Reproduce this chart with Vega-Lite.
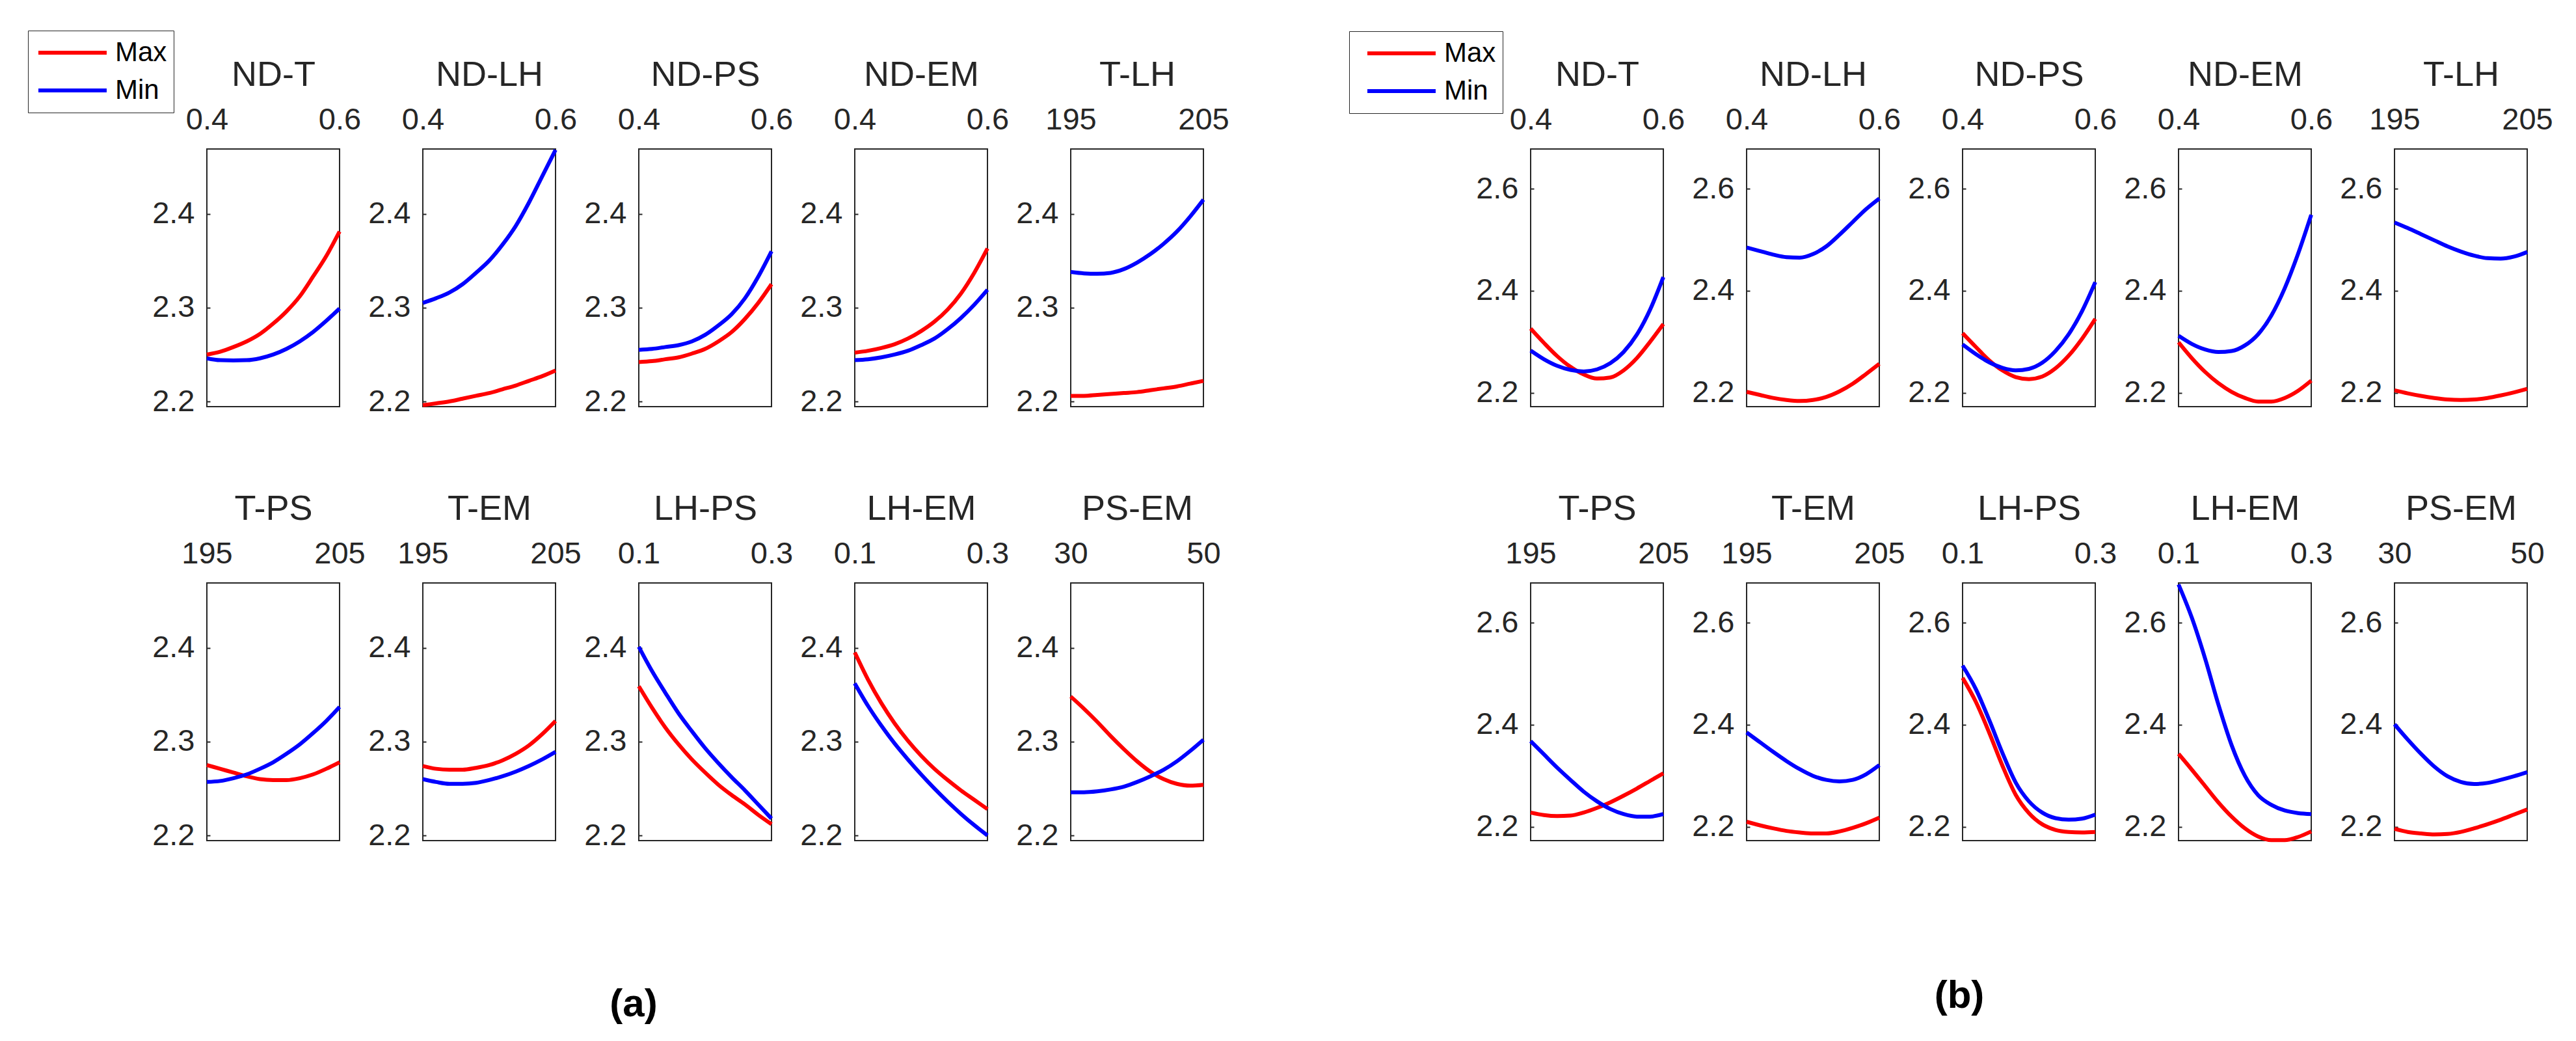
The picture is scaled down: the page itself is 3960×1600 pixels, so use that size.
{
  "$schema": "https://vega.github.io/schema/vega-lite/v6.json",
  "background": "white",
  "padding": {"left": 41, "top": 45, "right": 10, "bottom": 10},
  "config": {
    "font": "Liberation Sans",
    "view": {"continuousWidth": 204, "continuousHeight": 396, "stroke": "#262626", "strokeWidth": 2},
    "line": {"strokeWidth": 6, "interpolate": "monotone"},
    "axis": {"labelFont": "Liberation Sans", "labelFontSize": 47, "labelColor": "#262626", "tickColor": "#262626", "domain": false, "grid": false,
             "titleFont": "Liberation Sans", "titleFontSize": 54, "titleFontWeight": "normal", "titleColor": "#262626"},
    "axisX": {"ticks": false, "labelPadding": 21, "labelFlush": false, "labelOverlap": false, "labelBound": false, "titlePadding": 18},
    "axisY": {"tickSize": -5, "tickWidth": 2, "labelPadding": 24, "format": ".1f", "labelOverlap": false},
    "title": {"font": "Liberation Sans", "fontSize": 60, "fontWeight": "bold", "color": "black", "orient": "bottom", "anchor": "middle", "offset": 208},
    "legend": {"symbolType": "stroke", "symbolSize": 11025, "symbolStrokeWidth": 6, "labelFont": "Liberation Sans", "labelFontSize": 42, "labelColor": "black", "clipHeight": 48, "rowPadding": 10, "padding": 10, "strokeColor": "#262626", "fillColor": "white", "labelOffset": 10}
  },
  "datasets": {
    "a": [
      {"p":"ND-T","x":0.4,"Max":2.25,"Min":2.246},
      {"p":"ND-T","x":0.42,"Max":2.253,"Min":2.244},
      {"p":"ND-T","x":0.44,"Max":2.258,"Min":2.2438},
      {"p":"ND-T","x":0.46,"Max":2.264,"Min":2.244},
      {"p":"ND-T","x":0.48,"Max":2.272,"Min":2.246},
      {"p":"ND-T","x":0.5,"Max":2.283,"Min":2.25},
      {"p":"ND-T","x":0.52,"Max":2.296,"Min":2.256},
      {"p":"ND-T","x":0.54,"Max":2.312,"Min":2.264},
      {"p":"ND-T","x":0.56,"Max":2.333,"Min":2.274},
      {"p":"ND-T","x":0.58,"Max":2.355,"Min":2.286},
      {"p":"ND-T","x":0.6,"Max":2.381,"Min":2.299},
      {"p":"ND-LH","x":0.4,"Max":2.196,"Min":2.305},
      {"p":"ND-LH","x":0.42,"Max":2.198,"Min":2.31},
      {"p":"ND-LH","x":0.44,"Max":2.2,"Min":2.316},
      {"p":"ND-LH","x":0.46,"Max":2.203,"Min":2.325},
      {"p":"ND-LH","x":0.48,"Max":2.206,"Min":2.337},
      {"p":"ND-LH","x":0.5,"Max":2.209,"Min":2.35},
      {"p":"ND-LH","x":0.52,"Max":2.213,"Min":2.367},
      {"p":"ND-LH","x":0.54,"Max":2.217,"Min":2.387},
      {"p":"ND-LH","x":0.56,"Max":2.222,"Min":2.412},
      {"p":"ND-LH","x":0.58,"Max":2.227,"Min":2.44},
      {"p":"ND-LH","x":0.6,"Max":2.233,"Min":2.468},
      {"p":"ND-PS","x":0.4,"Max":2.242,"Min":2.255},
      {"p":"ND-PS","x":0.42,"Max":2.243,"Min":2.256},
      {"p":"ND-PS","x":0.44,"Max":2.245,"Min":2.258},
      {"p":"ND-PS","x":0.46,"Max":2.247,"Min":2.26},
      {"p":"ND-PS","x":0.48,"Max":2.251,"Min":2.264},
      {"p":"ND-PS","x":0.5,"Max":2.256,"Min":2.271},
      {"p":"ND-PS","x":0.52,"Max":2.264,"Min":2.281},
      {"p":"ND-PS","x":0.54,"Max":2.274,"Min":2.293},
      {"p":"ND-PS","x":0.56,"Max":2.288,"Min":2.31},
      {"p":"ND-PS","x":0.58,"Max":2.305,"Min":2.333},
      {"p":"ND-PS","x":0.6,"Max":2.325,"Min":2.36},
      {"p":"ND-EM","x":0.4,"Max":2.252,"Min":2.244},
      {"p":"ND-EM","x":0.42,"Max":2.254,"Min":2.245},
      {"p":"ND-EM","x":0.44,"Max":2.257,"Min":2.247},
      {"p":"ND-EM","x":0.46,"Max":2.261,"Min":2.25},
      {"p":"ND-EM","x":0.48,"Max":2.267,"Min":2.254},
      {"p":"ND-EM","x":0.5,"Max":2.275,"Min":2.26},
      {"p":"ND-EM","x":0.52,"Max":2.285,"Min":2.267},
      {"p":"ND-EM","x":0.54,"Max":2.298,"Min":2.277},
      {"p":"ND-EM","x":0.56,"Max":2.315,"Min":2.289},
      {"p":"ND-EM","x":0.58,"Max":2.337,"Min":2.303},
      {"p":"ND-EM","x":0.6,"Max":2.363,"Min":2.319},
      {"p":"T-LH","x":195,"Max":2.206,"Min":2.338},
      {"p":"T-LH","x":196,"Max":2.206,"Min":2.3365},
      {"p":"T-LH","x":197,"Max":2.207,"Min":2.336},
      {"p":"T-LH","x":198,"Max":2.208,"Min":2.337},
      {"p":"T-LH","x":199,"Max":2.209,"Min":2.341},
      {"p":"T-LH","x":200,"Max":2.21,"Min":2.348},
      {"p":"T-LH","x":201,"Max":2.212,"Min":2.357},
      {"p":"T-LH","x":202,"Max":2.214,"Min":2.368},
      {"p":"T-LH","x":203,"Max":2.216,"Min":2.381},
      {"p":"T-LH","x":204,"Max":2.219,"Min":2.397},
      {"p":"T-LH","x":205,"Max":2.222,"Min":2.415},
      {"p":"T-PS","x":195,"Max":2.275,"Min":2.257},
      {"p":"T-PS","x":196,"Max":2.271,"Min":2.258},
      {"p":"T-PS","x":197,"Max":2.267,"Min":2.261},
      {"p":"T-PS","x":198,"Max":2.263,"Min":2.265},
      {"p":"T-PS","x":199,"Max":2.26,"Min":2.271},
      {"p":"T-PS","x":200,"Max":2.259,"Min":2.278},
      {"p":"T-PS","x":201,"Max":2.259,"Min":2.287},
      {"p":"T-PS","x":202,"Max":2.261,"Min":2.297},
      {"p":"T-PS","x":203,"Max":2.265,"Min":2.309},
      {"p":"T-PS","x":204,"Max":2.271,"Min":2.322},
      {"p":"T-PS","x":205,"Max":2.278,"Min":2.337},
      {"p":"T-EM","x":195,"Max":2.274,"Min":2.26},
      {"p":"T-EM","x":196,"Max":2.271,"Min":2.257},
      {"p":"T-EM","x":197,"Max":2.27,"Min":2.255},
      {"p":"T-EM","x":198,"Max":2.27,"Min":2.255},
      {"p":"T-EM","x":199,"Max":2.272,"Min":2.256},
      {"p":"T-EM","x":200,"Max":2.275,"Min":2.259},
      {"p":"T-EM","x":201,"Max":2.28,"Min":2.263},
      {"p":"T-EM","x":202,"Max":2.287,"Min":2.268},
      {"p":"T-EM","x":203,"Max":2.296,"Min":2.274},
      {"p":"T-EM","x":204,"Max":2.308,"Min":2.281},
      {"p":"T-EM","x":205,"Max":2.322,"Min":2.289},
      {"p":"LH-PS","x":0.1,"Max":2.359,"Min":2.401},
      {"p":"LH-PS","x":0.12,"Max":2.336,"Min":2.375},
      {"p":"LH-PS","x":0.14,"Max":2.315,"Min":2.352},
      {"p":"LH-PS","x":0.16,"Max":2.297,"Min":2.33},
      {"p":"LH-PS","x":0.18,"Max":2.281,"Min":2.311},
      {"p":"LH-PS","x":0.2,"Max":2.267,"Min":2.293},
      {"p":"LH-PS","x":0.22,"Max":2.254,"Min":2.277},
      {"p":"LH-PS","x":0.24,"Max":2.243,"Min":2.262},
      {"p":"LH-PS","x":0.26,"Max":2.233,"Min":2.248},
      {"p":"LH-PS","x":0.28,"Max":2.222,"Min":2.233},
      {"p":"LH-PS","x":0.3,"Max":2.212,"Min":2.218},
      {"p":"LH-EM","x":0.1,"Max":2.395,"Min":2.362},
      {"p":"LH-EM","x":0.12,"Max":2.366,"Min":2.338},
      {"p":"LH-EM","x":0.14,"Max":2.341,"Min":2.317},
      {"p":"LH-EM","x":0.16,"Max":2.3195,"Min":2.298},
      {"p":"LH-EM","x":0.18,"Max":2.301,"Min":2.281},
      {"p":"LH-EM","x":0.2,"Max":2.285,"Min":2.265},
      {"p":"LH-EM","x":0.22,"Max":2.271,"Min":2.25},
      {"p":"LH-EM","x":0.24,"Max":2.259,"Min":2.236},
      {"p":"LH-EM","x":0.26,"Max":2.248,"Min":2.223},
      {"p":"LH-EM","x":0.28,"Max":2.238,"Min":2.211},
      {"p":"LH-EM","x":0.3,"Max":2.228,"Min":2.2},
      {"p":"PS-EM","x":30,"Max":2.348,"Min":2.246},
      {"p":"PS-EM","x":32,"Max":2.335,"Min":2.246},
      {"p":"PS-EM","x":34,"Max":2.321,"Min":2.247},
      {"p":"PS-EM","x":36,"Max":2.306,"Min":2.249},
      {"p":"PS-EM","x":38,"Max":2.292,"Min":2.252},
      {"p":"PS-EM","x":40,"Max":2.279,"Min":2.257},
      {"p":"PS-EM","x":42,"Max":2.268,"Min":2.263},
      {"p":"PS-EM","x":44,"Max":2.26,"Min":2.27},
      {"p":"PS-EM","x":46,"Max":2.255,"Min":2.279},
      {"p":"PS-EM","x":48,"Max":2.253,"Min":2.29},
      {"p":"PS-EM","x":50,"Max":2.254,"Min":2.302}
    ],
    "b": [
      {"p":"ND-T","x":0.4,"Max":2.326,"Min":2.283},
      {"p":"ND-T","x":0.42,"Max":2.298,"Min":2.266},
      {"p":"ND-T","x":0.44,"Max":2.272,"Min":2.253},
      {"p":"ND-T","x":0.46,"Max":2.251,"Min":2.245},
      {"p":"ND-T","x":0.48,"Max":2.236,"Min":2.242},
      {"p":"ND-T","x":0.5,"Max":2.228,"Min":2.246},
      {"p":"ND-T","x":0.52,"Max":2.23,"Min":2.258},
      {"p":"ND-T","x":0.54,"Max":2.244,"Min":2.28},
      {"p":"ND-T","x":0.56,"Max":2.268,"Min":2.314},
      {"p":"ND-T","x":0.58,"Max":2.3,"Min":2.363},
      {"p":"ND-T","x":0.6,"Max":2.335,"Min":2.427},
      {"p":"ND-LH","x":0.4,"Max":2.202,"Min":2.485},
      {"p":"ND-LH","x":0.42,"Max":2.196,"Min":2.478},
      {"p":"ND-LH","x":0.44,"Max":2.19,"Min":2.471},
      {"p":"ND-LH","x":0.46,"Max":2.186,"Min":2.466},
      {"p":"ND-LH","x":0.48,"Max":2.184,"Min":2.465},
      {"p":"ND-LH","x":0.5,"Max":2.186,"Min":2.472},
      {"p":"ND-LH","x":0.52,"Max":2.192,"Min":2.487},
      {"p":"ND-LH","x":0.54,"Max":2.203,"Min":2.51},
      {"p":"ND-LH","x":0.56,"Max":2.218,"Min":2.535},
      {"p":"ND-LH","x":0.58,"Max":2.237,"Min":2.56},
      {"p":"ND-LH","x":0.6,"Max":2.257,"Min":2.581},
      {"p":"ND-PS","x":0.4,"Max":2.317,"Min":2.295},
      {"p":"ND-PS","x":0.42,"Max":2.29,"Min":2.276},
      {"p":"ND-PS","x":0.44,"Max":2.264,"Min":2.26},
      {"p":"ND-PS","x":0.46,"Max":2.244,"Min":2.249},
      {"p":"ND-PS","x":0.48,"Max":2.231,"Min":2.244},
      {"p":"ND-PS","x":0.5,"Max":2.227,"Min":2.247},
      {"p":"ND-PS","x":0.52,"Max":2.232,"Min":2.259},
      {"p":"ND-PS","x":0.54,"Max":2.248,"Min":2.282},
      {"p":"ND-PS","x":0.56,"Max":2.273,"Min":2.315},
      {"p":"ND-PS","x":0.58,"Max":2.306,"Min":2.36},
      {"p":"ND-PS","x":0.6,"Max":2.345,"Min":2.417},
      {"p":"ND-EM","x":0.4,"Max":2.299,"Min":2.312},
      {"p":"ND-EM","x":0.42,"Max":2.268,"Min":2.296},
      {"p":"ND-EM","x":0.44,"Max":2.241,"Min":2.285},
      {"p":"ND-EM","x":0.46,"Max":2.219,"Min":2.28},
      {"p":"ND-EM","x":0.48,"Max":2.202,"Min":2.282},
      {"p":"ND-EM","x":0.5,"Max":2.19,"Min":2.293},
      {"p":"ND-EM","x":0.52,"Max":2.183,"Min":2.315},
      {"p":"ND-EM","x":0.54,"Max":2.183,"Min":2.352},
      {"p":"ND-EM","x":0.56,"Max":2.19,"Min":2.405},
      {"p":"ND-EM","x":0.58,"Max":2.204,"Min":2.472},
      {"p":"ND-EM","x":0.6,"Max":2.224,"Min":2.549},
      {"p":"T-LH","x":195,"Max":2.205,"Min":2.534},
      {"p":"T-LH","x":196,"Max":2.199,"Min":2.523},
      {"p":"T-LH","x":197,"Max":2.194,"Min":2.511},
      {"p":"T-LH","x":198,"Max":2.19,"Min":2.499},
      {"p":"T-LH","x":199,"Max":2.187,"Min":2.487},
      {"p":"T-LH","x":200,"Max":2.186,"Min":2.477},
      {"p":"T-LH","x":201,"Max":2.187,"Min":2.469},
      {"p":"T-LH","x":202,"Max":2.19,"Min":2.464},
      {"p":"T-LH","x":203,"Max":2.195,"Min":2.463},
      {"p":"T-LH","x":204,"Max":2.201,"Min":2.467},
      {"p":"T-LH","x":205,"Max":2.208,"Min":2.476},
      {"p":"T-PS","x":195,"Max":2.228,"Min":2.368},
      {"p":"T-PS","x":196,"Max":2.223,"Min":2.342},
      {"p":"T-PS","x":197,"Max":2.221,"Min":2.316},
      {"p":"T-PS","x":198,"Max":2.222,"Min":2.292},
      {"p":"T-PS","x":199,"Max":2.228,"Min":2.269},
      {"p":"T-PS","x":200,"Max":2.237,"Min":2.25},
      {"p":"T-PS","x":201,"Max":2.248,"Min":2.235},
      {"p":"T-PS","x":202,"Max":2.261,"Min":2.225},
      {"p":"T-PS","x":203,"Max":2.275,"Min":2.22},
      {"p":"T-PS","x":204,"Max":2.29,"Min":2.22},
      {"p":"T-PS","x":205,"Max":2.305,"Min":2.225},
      {"p":"T-EM","x":195,"Max":2.21,"Min":2.385},
      {"p":"T-EM","x":196,"Max":2.203,"Min":2.366},
      {"p":"T-EM","x":197,"Max":2.197,"Min":2.347},
      {"p":"T-EM","x":198,"Max":2.192,"Min":2.329},
      {"p":"T-EM","x":199,"Max":2.189,"Min":2.313},
      {"p":"T-EM","x":200,"Max":2.187,"Min":2.3},
      {"p":"T-EM","x":201,"Max":2.187,"Min":2.292},
      {"p":"T-EM","x":202,"Max":2.191,"Min":2.289},
      {"p":"T-EM","x":203,"Max":2.198,"Min":2.292},
      {"p":"T-EM","x":204,"Max":2.207,"Min":2.303},
      {"p":"T-EM","x":205,"Max":2.218,"Min":2.321},
      {"p":"LH-PS","x":0.1,"Max":2.492,"Min":2.516},
      {"p":"LH-PS","x":0.12,"Max":2.445,"Min":2.47},
      {"p":"LH-PS","x":0.14,"Max":2.385,"Min":2.41},
      {"p":"LH-PS","x":0.16,"Max":2.32,"Min":2.345},
      {"p":"LH-PS","x":0.18,"Max":2.263,"Min":2.287},
      {"p":"LH-PS","x":0.2,"Max":2.227,"Min":2.25},
      {"p":"LH-PS","x":0.22,"Max":2.205,"Min":2.228},
      {"p":"LH-PS","x":0.24,"Max":2.194,"Min":2.217},
      {"p":"LH-PS","x":0.26,"Max":2.19,"Min":2.214},
      {"p":"LH-PS","x":0.28,"Max":2.189,"Min":2.216},
      {"p":"LH-PS","x":0.3,"Max":2.19,"Min":2.224},
      {"p":"LH-EM","x":0.1,"Max":2.343,"Min":2.675},
      {"p":"LH-EM","x":0.12,"Max":2.312,"Min":2.61},
      {"p":"LH-EM","x":0.14,"Max":2.28,"Min":2.53},
      {"p":"LH-EM","x":0.16,"Max":2.248,"Min":2.44},
      {"p":"LH-EM","x":0.18,"Max":2.22,"Min":2.36},
      {"p":"LH-EM","x":0.2,"Max":2.197,"Min":2.3},
      {"p":"LH-EM","x":0.22,"Max":2.181,"Min":2.262},
      {"p":"LH-EM","x":0.24,"Max":2.174,"Min":2.243},
      {"p":"LH-EM","x":0.26,"Max":2.174,"Min":2.232},
      {"p":"LH-EM","x":0.28,"Max":2.18,"Min":2.227},
      {"p":"LH-EM","x":0.3,"Max":2.191,"Min":2.225},
      {"p":"PS-EM","x":30,"Max":2.196,"Min":2.401},
      {"p":"PS-EM","x":32,"Max":2.19,"Min":2.371},
      {"p":"PS-EM","x":34,"Max":2.187,"Min":2.343},
      {"p":"PS-EM","x":36,"Max":2.185,"Min":2.318},
      {"p":"PS-EM","x":38,"Max":2.186,"Min":2.299},
      {"p":"PS-EM","x":40,"Max":2.19,"Min":2.288},
      {"p":"PS-EM","x":42,"Max":2.197,"Min":2.284},
      {"p":"PS-EM","x":44,"Max":2.205,"Min":2.286},
      {"p":"PS-EM","x":46,"Max":2.214,"Min":2.292},
      {"p":"PS-EM","x":48,"Max":2.224,"Min":2.299},
      {"p":"PS-EM","x":50,"Max":2.234,"Min":2.307}
    ],
    "none": []
  },
  "columns": 11,
  "align": "each",
  "bounds": "flush",
  "spacing": {"row": 271, "column": 128},
  "resolve": {"scale": {"color": "independent"}, "legend": {"color": "independent"}},
  "concat": [
    {"data": {"name": "a"}, "transform": [{"filter": "datum.p === 'ND-T'"}, {"fold": ["Max", "Min"], "as": ["s", "y"]}], "mark": "line",
     "encoding": {
       "x": {"field": "x", "type": "quantitative", "title": "ND-T", "scale": {"domain": [0.4, 0.6], "nice": false}, "axis": {"orient": "top", "values": [0.4, 0.6]}},
       "y": {"field": "y", "type": "quantitative", "title": null, "scale": {"domain": [2.1945, 2.469], "nice": false}, "axis": {"values": [2.2, 2.3, 2.4]}},
       "color": {"field": "s", "type": "nominal", "scale": {"domain": ["Max", "Min"], "range": ["#ff0000", "#0000ff"]}, "legend": {"orient": "none", "legendX": -275, "legendY": -182, "title": null, "symbolOffset": 3}}}},
    {"data": {"name": "a"}, "transform": [{"filter": "datum.p === 'ND-LH'"}, {"fold": ["Max", "Min"], "as": ["s", "y"]}], "mark": "line",
     "encoding": {
       "x": {"field": "x", "type": "quantitative", "title": "ND-LH", "scale": {"domain": [0.4, 0.6], "nice": false}, "axis": {"orient": "top", "values": [0.4, 0.6]}},
       "y": {"field": "y", "type": "quantitative", "title": null, "scale": {"domain": [2.1945, 2.469], "nice": false}, "axis": {"values": [2.2, 2.3, 2.4]}},
       "color": {"field": "s", "type": "nominal", "scale": {"domain": ["Max", "Min"], "range": ["#ff0000", "#0000ff"]}, "legend": null}}},
    {"data": {"name": "a"}, "transform": [{"filter": "datum.p === 'ND-PS'"}, {"fold": ["Max", "Min"], "as": ["s", "y"]}], "mark": "line",
     "encoding": {
       "x": {"field": "x", "type": "quantitative", "title": "ND-PS", "scale": {"domain": [0.4, 0.6], "nice": false}, "axis": {"orient": "top", "values": [0.4, 0.6]}},
       "y": {"field": "y", "type": "quantitative", "title": null, "scale": {"domain": [2.1945, 2.469], "nice": false}, "axis": {"values": [2.2, 2.3, 2.4]}},
       "color": {"field": "s", "type": "nominal", "scale": {"domain": ["Max", "Min"], "range": ["#ff0000", "#0000ff"]}, "legend": null}}},
    {"data": {"name": "a"}, "transform": [{"filter": "datum.p === 'ND-EM'"}, {"fold": ["Max", "Min"], "as": ["s", "y"]}], "mark": "line",
     "encoding": {
       "x": {"field": "x", "type": "quantitative", "title": "ND-EM", "scale": {"domain": [0.4, 0.6], "nice": false}, "axis": {"orient": "top", "values": [0.4, 0.6]}},
       "y": {"field": "y", "type": "quantitative", "title": null, "scale": {"domain": [2.1945, 2.469], "nice": false}, "axis": {"values": [2.2, 2.3, 2.4]}},
       "color": {"field": "s", "type": "nominal", "scale": {"domain": ["Max", "Min"], "range": ["#ff0000", "#0000ff"]}, "legend": null}}},
    {"data": {"name": "a"}, "transform": [{"filter": "datum.p === 'T-LH'"}, {"fold": ["Max", "Min"], "as": ["s", "y"]}], "mark": "line",
     "encoding": {
       "x": {"field": "x", "type": "quantitative", "title": "T-LH", "scale": {"domain": [195, 205], "nice": false, "zero": false}, "axis": {"orient": "top", "values": [195, 205]}},
       "y": {"field": "y", "type": "quantitative", "title": null, "scale": {"domain": [2.1945, 2.469], "nice": false}, "axis": {"values": [2.2, 2.3, 2.4]}},
       "color": {"field": "s", "type": "nominal", "scale": {"domain": ["Max", "Min"], "range": ["#ff0000", "#0000ff"]}, "legend": null}}},
    {"width": 247, "height": 396, "view": {"stroke": null}, "data": {"name": "none"}, "mark": "point"},
    {"data": {"name": "b"}, "transform": [{"filter": "datum.p === 'ND-T'"}, {"fold": ["Max", "Min"], "as": ["s", "y"]}], "mark": "line",
     "encoding": {
       "x": {"field": "x", "type": "quantitative", "title": "ND-T", "scale": {"domain": [0.4, 0.6], "nice": false}, "axis": {"orient": "top", "values": [0.4, 0.6]}},
       "y": {"field": "y", "type": "quantitative", "title": null, "scale": {"domain": [2.173, 2.678], "nice": false}, "axis": {"values": [2.2, 2.4, 2.6]}},
       "color": {"field": "s", "type": "nominal", "scale": {"domain": ["Max", "Min"], "range": ["#ff0000", "#0000ff"]}, "legend": {"orient": "none", "legendX": -279, "legendY": -181, "title": null, "symbolOffset": 15}}}},
    {"data": {"name": "b"}, "transform": [{"filter": "datum.p === 'ND-LH'"}, {"fold": ["Max", "Min"], "as": ["s", "y"]}], "mark": "line",
     "encoding": {
       "x": {"field": "x", "type": "quantitative", "title": "ND-LH", "scale": {"domain": [0.4, 0.6], "nice": false}, "axis": {"orient": "top", "values": [0.4, 0.6]}},
       "y": {"field": "y", "type": "quantitative", "title": null, "scale": {"domain": [2.173, 2.678], "nice": false}, "axis": {"values": [2.2, 2.4, 2.6]}},
       "color": {"field": "s", "type": "nominal", "scale": {"domain": ["Max", "Min"], "range": ["#ff0000", "#0000ff"]}, "legend": null}}},
    {"data": {"name": "b"}, "transform": [{"filter": "datum.p === 'ND-PS'"}, {"fold": ["Max", "Min"], "as": ["s", "y"]}], "mark": "line",
     "encoding": {
       "x": {"field": "x", "type": "quantitative", "title": "ND-PS", "scale": {"domain": [0.4, 0.6], "nice": false}, "axis": {"orient": "top", "values": [0.4, 0.6]}},
       "y": {"field": "y", "type": "quantitative", "title": null, "scale": {"domain": [2.173, 2.678], "nice": false}, "axis": {"values": [2.2, 2.4, 2.6]}},
       "color": {"field": "s", "type": "nominal", "scale": {"domain": ["Max", "Min"], "range": ["#ff0000", "#0000ff"]}, "legend": null}}},
    {"data": {"name": "b"}, "transform": [{"filter": "datum.p === 'ND-EM'"}, {"fold": ["Max", "Min"], "as": ["s", "y"]}], "mark": "line",
     "encoding": {
       "x": {"field": "x", "type": "quantitative", "title": "ND-EM", "scale": {"domain": [0.4, 0.6], "nice": false}, "axis": {"orient": "top", "values": [0.4, 0.6]}},
       "y": {"field": "y", "type": "quantitative", "title": null, "scale": {"domain": [2.173, 2.678], "nice": false}, "axis": {"values": [2.2, 2.4, 2.6]}},
       "color": {"field": "s", "type": "nominal", "scale": {"domain": ["Max", "Min"], "range": ["#ff0000", "#0000ff"]}, "legend": null}}},
    {"data": {"name": "b"}, "transform": [{"filter": "datum.p === 'T-LH'"}, {"fold": ["Max", "Min"], "as": ["s", "y"]}], "mark": "line",
     "encoding": {
       "x": {"field": "x", "type": "quantitative", "title": "T-LH", "scale": {"domain": [195, 205], "nice": false, "zero": false}, "axis": {"orient": "top", "values": [195, 205]}},
       "y": {"field": "y", "type": "quantitative", "title": null, "scale": {"domain": [2.173, 2.678], "nice": false}, "axis": {"values": [2.2, 2.4, 2.6]}},
       "color": {"field": "s", "type": "nominal", "scale": {"domain": ["Max", "Min"], "range": ["#ff0000", "#0000ff"]}, "legend": null}}},

    {"data": {"name": "a"}, "transform": [{"filter": "datum.p === 'T-PS'"}, {"fold": ["Max", "Min"], "as": ["s", "y"]}], "mark": "line",
     "encoding": {
       "x": {"field": "x", "type": "quantitative", "title": "T-PS", "scale": {"domain": [195, 205], "nice": false, "zero": false}, "axis": {"orient": "top", "values": [195, 205]}},
       "y": {"field": "y", "type": "quantitative", "title": null, "scale": {"domain": [2.1945, 2.469], "nice": false}, "axis": {"values": [2.2, 2.3, 2.4]}},
       "color": {"field": "s", "type": "nominal", "scale": {"domain": ["Max", "Min"], "range": ["#ff0000", "#0000ff"]}, "legend": null}}},
    {"data": {"name": "a"}, "transform": [{"filter": "datum.p === 'T-EM'"}, {"fold": ["Max", "Min"], "as": ["s", "y"]}], "mark": "line",
     "encoding": {
       "x": {"field": "x", "type": "quantitative", "title": "T-EM", "scale": {"domain": [195, 205], "nice": false, "zero": false}, "axis": {"orient": "top", "values": [195, 205]}},
       "y": {"field": "y", "type": "quantitative", "title": null, "scale": {"domain": [2.1945, 2.469], "nice": false}, "axis": {"values": [2.2, 2.3, 2.4]}},
       "color": {"field": "s", "type": "nominal", "scale": {"domain": ["Max", "Min"], "range": ["#ff0000", "#0000ff"]}, "legend": null}}},
    {"title": {"text": "(a)", "dx": -110}, "data": {"name": "a"}, "transform": [{"filter": "datum.p === 'LH-PS'"}, {"fold": ["Max", "Min"], "as": ["s", "y"]}], "mark": "line",
     "encoding": {
       "x": {"field": "x", "type": "quantitative", "title": "LH-PS", "scale": {"domain": [0.1, 0.3], "nice": false}, "axis": {"orient": "top", "values": [0.1, 0.3]}},
       "y": {"field": "y", "type": "quantitative", "title": null, "scale": {"domain": [2.1945, 2.469], "nice": false}, "axis": {"values": [2.2, 2.3, 2.4]}},
       "color": {"field": "s", "type": "nominal", "scale": {"domain": ["Max", "Min"], "range": ["#ff0000", "#0000ff"]}, "legend": null}}},
    {"data": {"name": "a"}, "transform": [{"filter": "datum.p === 'LH-EM'"}, {"fold": ["Max", "Min"], "as": ["s", "y"]}], "mark": "line",
     "encoding": {
       "x": {"field": "x", "type": "quantitative", "title": "LH-EM", "scale": {"domain": [0.1, 0.3], "nice": false}, "axis": {"orient": "top", "values": [0.1, 0.3]}},
       "y": {"field": "y", "type": "quantitative", "title": null, "scale": {"domain": [2.1945, 2.469], "nice": false}, "axis": {"values": [2.2, 2.3, 2.4]}},
       "color": {"field": "s", "type": "nominal", "scale": {"domain": ["Max", "Min"], "range": ["#ff0000", "#0000ff"]}, "legend": null}}},
    {"data": {"name": "a"}, "transform": [{"filter": "datum.p === 'PS-EM'"}, {"fold": ["Max", "Min"], "as": ["s", "y"]}], "mark": "line",
     "encoding": {
       "x": {"field": "x", "type": "quantitative", "title": "PS-EM", "scale": {"domain": [30, 50], "nice": false, "zero": false}, "axis": {"orient": "top", "values": [30, 50]}},
       "y": {"field": "y", "type": "quantitative", "title": null, "scale": {"domain": [2.1945, 2.469], "nice": false}, "axis": {"values": [2.2, 2.3, 2.4]}},
       "color": {"field": "s", "type": "nominal", "scale": {"domain": ["Max", "Min"], "range": ["#ff0000", "#0000ff"]}, "legend": null}}},
    {"width": 247, "height": 396, "view": {"stroke": null}, "data": {"name": "none"}, "mark": "point"},
    {"data": {"name": "b"}, "transform": [{"filter": "datum.p === 'T-PS'"}, {"fold": ["Max", "Min"], "as": ["s", "y"]}], "mark": "line",
     "encoding": {
       "x": {"field": "x", "type": "quantitative", "title": "T-PS", "scale": {"domain": [195, 205], "nice": false, "zero": false}, "axis": {"orient": "top", "values": [195, 205]}},
       "y": {"field": "y", "type": "quantitative", "title": null, "scale": {"domain": [2.173, 2.678], "nice": false}, "axis": {"values": [2.2, 2.4, 2.6]}},
       "color": {"field": "s", "type": "nominal", "scale": {"domain": ["Max", "Min"], "range": ["#ff0000", "#0000ff"]}, "legend": null}}},
    {"data": {"name": "b"}, "transform": [{"filter": "datum.p === 'T-EM'"}, {"fold": ["Max", "Min"], "as": ["s", "y"]}], "mark": "line",
     "encoding": {
       "x": {"field": "x", "type": "quantitative", "title": "T-EM", "scale": {"domain": [195, 205], "nice": false, "zero": false}, "axis": {"orient": "top", "values": [195, 205]}},
       "y": {"field": "y", "type": "quantitative", "title": null, "scale": {"domain": [2.173, 2.678], "nice": false}, "axis": {"values": [2.2, 2.4, 2.6]}},
       "color": {"field": "s", "type": "nominal", "scale": {"domain": ["Max", "Min"], "range": ["#ff0000", "#0000ff"]}, "legend": null}}},
    {"title": {"text": "(b)", "dx": -107}, "data": {"name": "b"}, "transform": [{"filter": "datum.p === 'LH-PS'"}, {"fold": ["Max", "Min"], "as": ["s", "y"]}], "mark": "line",
     "encoding": {
       "x": {"field": "x", "type": "quantitative", "title": "LH-PS", "scale": {"domain": [0.1, 0.3], "nice": false}, "axis": {"orient": "top", "values": [0.1, 0.3]}},
       "y": {"field": "y", "type": "quantitative", "title": null, "scale": {"domain": [2.173, 2.678], "nice": false}, "axis": {"values": [2.2, 2.4, 2.6]}},
       "color": {"field": "s", "type": "nominal", "scale": {"domain": ["Max", "Min"], "range": ["#ff0000", "#0000ff"]}, "legend": null}}},
    {"data": {"name": "b"}, "transform": [{"filter": "datum.p === 'LH-EM'"}, {"fold": ["Max", "Min"], "as": ["s", "y"]}], "mark": "line",
     "encoding": {
       "x": {"field": "x", "type": "quantitative", "title": "LH-EM", "scale": {"domain": [0.1, 0.3], "nice": false}, "axis": {"orient": "top", "values": [0.1, 0.3]}},
       "y": {"field": "y", "type": "quantitative", "title": null, "scale": {"domain": [2.173, 2.678], "nice": false}, "axis": {"values": [2.2, 2.4, 2.6]}},
       "color": {"field": "s", "type": "nominal", "scale": {"domain": ["Max", "Min"], "range": ["#ff0000", "#0000ff"]}, "legend": null}}},
    {"data": {"name": "b"}, "transform": [{"filter": "datum.p === 'PS-EM'"}, {"fold": ["Max", "Min"], "as": ["s", "y"]}], "mark": "line",
     "encoding": {
       "x": {"field": "x", "type": "quantitative", "title": "PS-EM", "scale": {"domain": [30, 50], "nice": false, "zero": false}, "axis": {"orient": "top", "values": [30, 50]}},
       "y": {"field": "y", "type": "quantitative", "title": null, "scale": {"domain": [2.173, 2.678], "nice": false}, "axis": {"values": [2.2, 2.4, 2.6]}},
       "color": {"field": "s", "type": "nominal", "scale": {"domain": ["Max", "Min"], "range": ["#ff0000", "#0000ff"]}, "legend": null}}}
  ]
}
